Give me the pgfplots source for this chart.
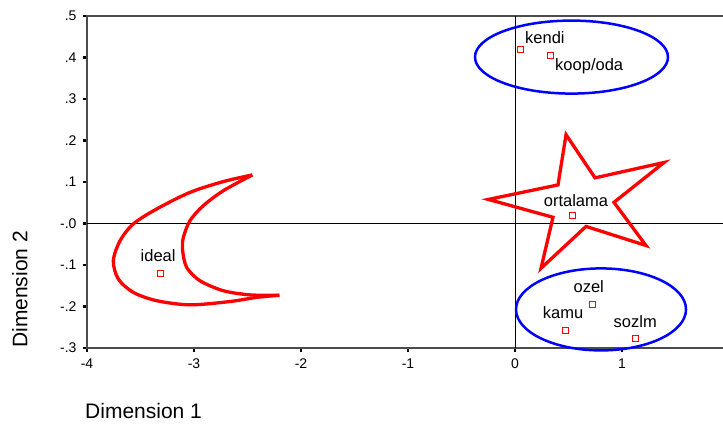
\documentclass[border=0pt]{standalone}
\usepackage{pgfplots}
\pgfplotsset{compat=1.18}
\usepackage{fontspec}
\setmainfont{Liberation Sans}

\begin{document}
\begin{tikzpicture}
\begin{axis}[
    scale only axis,
    width=642pt, height=332pt,
    xmin=-4, xmax=2,
    ymin=-0.3, ymax=0.5,
    clip=false,
    axis line style={draw=black!70, line width=1.5pt},
    xtick={-4,-3,-2,-1,0,1,2},
    xticklabels={-4,-3,-2,-1,0,1,2},
    ytick={-0.3,-0.2,-0.1,0,0.1,0.2,0.3,0.4,0.5},
    yticklabels={-.3,-.2,-.1,-.0,.1,.2,.3,.4,.5},
    xtick pos=bottom, ytick pos=left,
    tick align=outside,
    major tick length=4pt,
    tick style={black, line width=2.5pt},
    tick label style={font=\fontsize{14}{16}\selectfont},
    xticklabel style={yshift=-3pt},
    yticklabel style={xshift=-3pt},
    /pgf/number format/assume math mode=true,
]
% reference lines
\addplot[black, line width=1pt] coordinates {(0,-0.3) (0,0.5)};
\addplot[black, line width=1pt] coordinates {(-4,0) (2,0)};

% star around ortalama
\addplot[red, line width=3.3pt, line join=miter] coordinates {
    (0.477,0.214) (0.748,0.110) (1.393,0.147) (0.925,0.051) (1.224,-0.053)
    (0.664,-0.007) (0.243,-0.108) (0.355,0.015) (-0.249,0.058) (0.402,0.093)
} -- cycle;

% crescent around ideal
\addplot[red, line width=3.3pt, smooth] coordinates {
    (-2.455,0.117) (-2.726,0.101) (-3.037,0.075) (-3.349,0.035) (-3.567,-0.001)
    (-3.692,-0.042) (-3.754,-0.090) (-3.707,-0.134) (-3.567,-0.166) (-3.349,-0.186)
    (-3.037,-0.196) (-2.664,-0.188) (-2.414,-0.178) (-2.203,-0.173)
};
\addplot[red, line width=3.3pt, smooth] coordinates {
    (-2.455,0.117) (-2.726,0.079) (-2.913,0.043) (-3.037,0.007) (-3.100,-0.034)
    (-3.106,-0.066) (-3.068,-0.106) (-2.944,-0.138) (-2.726,-0.162) (-2.477,-0.172)
    (-2.203,-0.173)
};

% ellipses
\draw[blue, line width=2.5pt] (axis cs:0.528,0.401) ellipse [x radius=96.5pt, y radius=36.5pt];
\draw[blue, line width=2.5pt] (axis cs:0.804,-0.207) ellipse [x radius=85pt, y radius=41pt];

% points
\addplot[only marks, mark=square, mark size=3pt, red, mark options={line width=1pt}] coordinates {
    (0.056,0.419) (0.334,0.405) (0.535,0.020) (0.72,-0.195)
    (0.47,-0.258) (1.13,-0.278) (-3.31,-0.12)
};

\begin{scope}[every node/.style={font=\fontsize{16.5}{18}\selectfont, inner sep=0pt}]
\node[anchor=base west, xshift=4pt, yshift=6pt] at (axis cs:0.056,0.419) {kendi};
\node[anchor=base west, xshift=4.3pt, yshift=-15.3pt] at (axis cs:0.334,0.405) {koop/oda};
\node[anchor=base, xshift=3.7pt, yshift=8.3pt] at (axis cs:0.535,0.020) {ortalama};
\node[anchor=base, xshift=-3.3pt, yshift=11.7pt] at (axis cs:0.72,-0.195) {ozel};
\node[anchor=base, xshift=-2.2pt, yshift=11.7pt] at (axis cs:0.47,-0.258) {kamu};
\node[anchor=base, xshift=-0.7pt, yshift=11pt] at (axis cs:1.13,-0.278) {sozlm};
\node[anchor=base, xshift=-2.7pt, yshift=12pt] at (axis cs:-3.31,-0.12) {ideal};
\end{scope}

\node[anchor=base west, inner sep=0pt, font=\fontsize{21}{24}\selectfont, xshift=-2pt, yshift=-70pt]
    at (rel axis cs:0,0) {Dimension 1};
\node[xshift=-59.7pt, rotate=90, anchor=base west, inner sep=0pt, font=\fontsize{21}{24}\selectfont]
    at (rel axis cs:0,0) {Dimension 2};
\end{axis}
\pgfresetboundingbox
\useasboundingbox (-87pt,-78pt) rectangle (636pt,348pt);
\end{tikzpicture}
\end{document}
